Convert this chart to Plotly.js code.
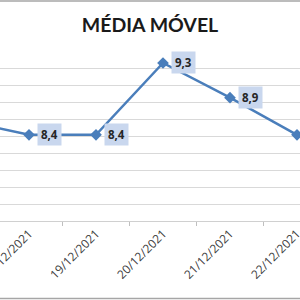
<!DOCTYPE html>
<html>
<head>
<meta charset="utf-8">
<script src="https://cdn.plot.ly/plotly-3.0.1.min.js"></script>
<style>html,body{margin:0;padding:0;background:#fff;}#chart{width:300px;height:300px;}</style>
</head>
<body>
<div id="chart"></div>
<script>
// Data
const categories = ['17/12/2021', '18/12/2021', '19/12/2021', '20/12/2021', '21/12/2021', '22/12/2021'];
const mediaMovel = [8.59, 8.42, 8.42, 9.27, 8.86, 8.42];
const labelIdx = [1, 2, 3, 4];

const fmt = v => v.toFixed(1).replace('.', ',');

const trace = {
  x: categories,
  y: mediaMovel,
  type: 'scatter',
  mode: 'lines+markers',
  line: {color: '#4A7EBB', width: 2.5},
  marker: {symbol: 'diamond', size: 9, color: '#4A7EBB'},
  hoverinfo: 'skip'
};

const annotations = labelIdx.map(i => ({
  x: categories[i], y: mediaMovel[i], xref: 'x', yref: 'y',
  text: '<b>' + fmt(mediaMovel[i]) + '</b>', showarrow: false,
  xanchor: 'left', yanchor: 'middle', xshift: 8,
  bgcolor: '#C9D7EE', borderpad: 3,
  font: {family: 'Open Sans, sans-serif', size: 11.5, color: '#262626'}
}));

const layout = {
  width: 300, height: 300,
  margin: {l: 0, r: 0, t: 52, b: 79},
  paper_bgcolor: '#ffffff', plot_bgcolor: '#ffffff',
  showlegend: false,
  title: {text: '<b>MÉDIA MÓVEL</b>', x: 0.5, xanchor: 'center', y: 0.915, yanchor: 'middle',
          font: {family: 'Lato, sans-serif', size: 19.5, color: '#1a1a1a'}},
  xaxis: {
    type: 'category', range: [0.567, 5.045],
    showgrid: false, showline: true, linecolor: '#d0d0d0', linewidth: 1,
    ticks: 'outside', tickson: 'boundaries', ticklen: 4, tickcolor: '#bfbfbf',
    tickangle: -45, tickfont: {family: 'Open Sans, sans-serif', size: 12, color: '#404040'},
    zeroline: false, fixedrange: true
  },
  yaxis: {
    range: [7.4, 9.4], dtick: 0.2, tick0: 7.4,
    showgrid: true, gridcolor: '#d9d9d9', gridwidth: 1,
    showticklabels: false, showline: false, zeroline: false, ticks: '', fixedrange: true
  },
  annotations: annotations,
  shapes: [
    {type: 'line', xref: 'paper', yref: 'paper', x0: 0, x1: 1, y0: 1.302, y1: 1.302, line: {color: '#a6a6a6', width: 1.5}},
    {type: 'line', xref: 'paper', yref: 'paper', x0: 0, x1: 1, y0: -0.458, y1: -0.458, line: {color: '#a6a6a6', width: 1.5}}
  ]
};

Plotly.newPlot('chart', [trace], layout, {displayModeBar: false, staticPlot: true});
</script>
</body>
</html>
